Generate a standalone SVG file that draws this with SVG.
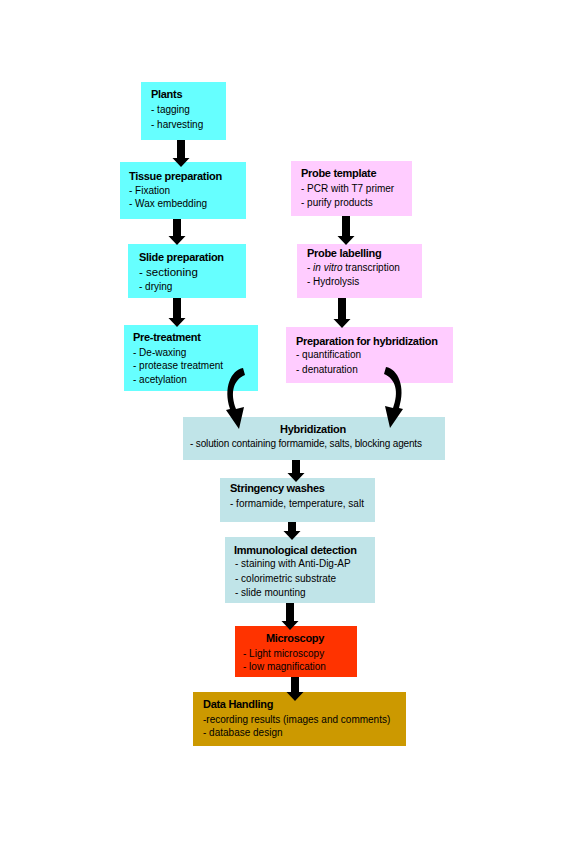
<svg xmlns="http://www.w3.org/2000/svg" xmlns:xlink="http://www.w3.org/1999/xlink" width="576" height="864" viewBox="0 0 576 864">
<style>
text{font-family:"Liberation Sans",Arial,sans-serif;font-size:10px;fill:#000}
.t{font-weight:bold;font-size:11px;letter-spacing:-0.3px}
.cy{fill:#66FFFF}
.pk{fill:#FFCCFF}
.bl{fill:#C0E4E8}
.rd{fill:#FF3300}
.gd{fill:#CC9900}
.ar{fill:#000}
</style>
<defs>
<path id="curl" d="M243 368 C231 370,223 388,230 409 L226 410 L239 429 L244 407 L236 409 C230 393,233 380,245 375 Z"/>
</defs>
<rect width="576" height="864" fill="#fff"/>
<g id="plants"><rect class="cy" x="141" y="82" width="85" height="58"/>
<text class="t" x="151" y="98">Plants</text><text x="151" y="113">- tagging</text><text x="151" y="128">- harvesting</text></g>
<g id="tissue"><rect class="cy" x="120" y="162" width="126" height="57"/>
<text class="t" x="129" y="180">Tissue preparation</text><text x="129" y="194">- Fixation</text><text x="129" y="207">- Wax embedding</text></g>
<g id="slide"><rect class="cy" x="128" y="244" width="118" height="54"/>
<text class="t" x="139" y="261">Slide preparation</text><text x="139" y="276" style="font-size:11.5px">- sectioning</text><text x="139" y="290">- drying</text></g>
<g id="pretreatment"><rect class="cy" x="124" y="325" width="134" height="66"/>
<text class="t" x="133" y="341">Pre-treatment</text><text x="133" y="356">- De-waxing</text><text x="133" y="369">- protease treatment</text><text x="133" y="383">- acetylation</text></g>
<g id="probetemplate"><rect class="pk" x="291" y="161" width="121" height="55"/>
<text class="t" x="301" y="177">Probe template</text><text x="301" y="192">- PCR with T7 primer</text><text x="301" y="206">- purify products</text></g>
<g id="probelabelling"><rect class="pk" x="297" y="244" width="125" height="54"/>
<text class="t" x="307" y="257">Probe labelling</text><text x="307" y="271">- <tspan font-style="italic">in vitro</tspan> transcription</text><text x="307" y="285">- Hydrolysis</text></g>
<g id="prephyb"><rect class="pk" x="286" y="327" width="167" height="56"/>
<text class="t" x="296" y="345">Preparation for hybridization</text><text x="296" y="358">- quantification</text><text x="296" y="373">- denaturation</text></g>
<g id="hybridization"><rect class="bl" x="183" y="417" width="262" height="43"/>
<text class="t" x="313" y="433" text-anchor="middle">Hybridization</text><text x="190" y="447" textLength="232">- solution containing formamide, salts, blocking agents</text></g>
<g id="stringency"><rect class="bl" x="220" y="478" width="155" height="44"/>
<text class="t" x="230" y="492">Stringency washes</text><text x="230" y="507">- formamide, temperature, salt</text></g>
<g id="immuno"><rect class="bl" x="225" y="537" width="150" height="66"/>
<text class="t" x="234" y="554">Immunological detection</text><text x="235" y="567">- staining with Anti-Dig-AP</text><text x="235" y="582">- colorimetric substrate</text><text x="235" y="596">- slide mounting</text></g>
<g id="microscopy"><rect class="rd" x="235" y="626" width="122" height="51"/>
<text class="t" x="295" y="642" text-anchor="middle">Microscopy</text><text x="243" y="657">- Light microscopy</text><text x="243" y="670">- low magnification</text></g>
<g id="datahandling"><rect class="gd" x="193" y="692" width="213" height="54"/>
<text class="t" x="203" y="708">Data Handling</text><text x="203" y="723">-recording results (images and comments)</text><text x="203" y="736">- database design</text></g>
<g id="connectors" class="ar">
<polygon points="177,140 185,140 185,158 189.5,158 181,167 172.5,158 177,158"/>
<polygon points="173,219 181,219 181,236 185.5,236 177,245 168.5,236 173,236"/>
<polygon points="173,298 181,298 181,318 185.5,318 177,327 168.5,318 173,318"/>
<polygon points="342,216 350,216 350,236 354.5,236 346,245 337.5,236 342,236"/>
<polygon points="338,298 346,298 346,319 350.5,319 342,328 333.5,319 338,319"/>
<polygon points="292,460 300,460 300,473 304.5,473 296,482 287.5,473 292,473"/>
<polygon points="288,522 296,522 296,531 300.5,531 292,540 283.5,531 288,531"/>
<polygon points="286,603 294,603 294,621 298.5,621 290,630 281.5,621 286,621"/>
<polygon points="291,677 299,677 299,692 303.5,692 295,701 286.5,692 291,692"/>
<use xlink:href="#curl"/>
<use xlink:href="#curl" transform="matrix(-1 0 0 1 629 -1)"/>
</g>
</svg>
